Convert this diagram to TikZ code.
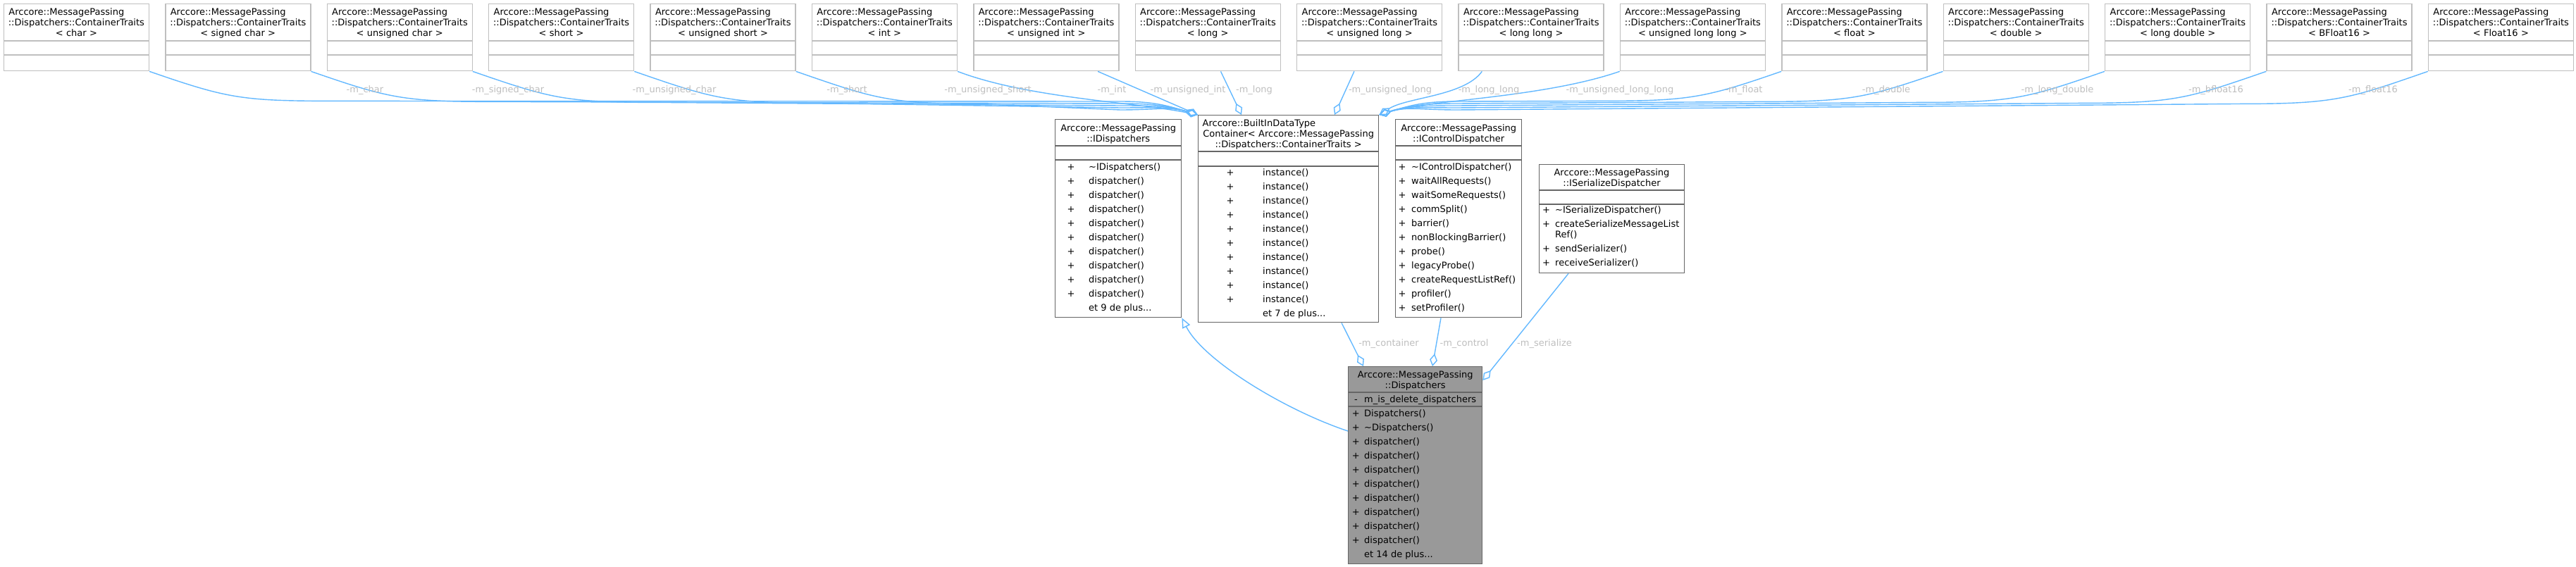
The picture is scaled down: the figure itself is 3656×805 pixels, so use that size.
\documentclass[tikz,border=0pt]{standalone}
\usepackage{fontspec}
\setmainfont{DejaVu Sans}
\usetikzlibrary{arrows.meta,calc}

\definecolor{edgeblue}{HTML}{63B8FF}
\definecolor{extframe}{HTML}{BFBFBF}
\definecolor{docframe}{HTML}{666666}
\definecolor{mainfill}{HTML}{999999}
\definecolor{lblgray}{HTML}{BEBEBE}

\begin{document}
\begin{tikzpicture}[x=1pt, y=-1pt,
  every node/.style = {inner sep=0pt, font=\fontsize{13}{15}\selectfont},
  extclass/.style = {draw=extframe, line width=1.4pt, anchor=north west,
    minimum width=206pt, minimum height=95pt},
  docclass/.style = {draw=docframe, line width=1.4pt, anchor=north west},
  sepline/.style = {line width=1.4pt},
  title/.style = {anchor=north, align=center},
  members/.style = {anchor=north west, align=left, font=\fontsize{13}{20}\selectfont},
  marks/.style = {anchor=north, align=center, font=\fontsize{13}{20}\selectfont},
  agg/.style = {draw=edgeblue, line width=1.4pt, {Diamond[open,length=18pt,width=11pt]}-},
  inherit/.style = {draw=edgeblue, line width=1.4pt, -{Triangle[open,length=14pt,width=12pt]}},
  elabel/.style = {text=lblgray}]

  \useasboundingbox (0,0) rectangle (3656,805);

  % container traits
  \foreach \typ [count=\i from 0] in {char, signed char, unsigned char, short,
      unsigned short, int, unsigned int, long, unsigned long, long long,
      unsigned long long, float, double, long double, BFloat16, Float16} {
    \node[extclass] (t\i) at (4.7+229.4*\i, 5) {};
    \node[title, text width=206pt] at ($(t\i.north)+(0,6)$)
      {\strut\hspace*{7pt}Arccore::MessagePassing\hfill\null\\::Dispatchers::ContainerTraits\\< \typ{} >};
    \draw[extframe, sepline] ($(t\i.north west)+(0,53)$) -- ++(206,0)
      ($(t\i.north west)+(0,73)$) -- ++(206,0);
  }

  % IDispatchers
  \node[docclass, minimum width=179pt, minimum height=281pt] (idisp) at (1497,169) {};
  \node[title] at ($(idisp.north)+(0,7)$) {\strut Arccore::MessagePassing\\::IDispatchers};
  \draw[docframe, sepline] ($(idisp.north west)+(0,38)$) -- ++(179,0)
    ($(idisp.north west)+(0,58)$) -- ++(179,0);
  \node[marks] at ($(idisp.north west)+(23,58.5)$) {\strut+\\+\\+\\+\\+\\+\\+\\+\\+\\+};
  \node[members] at ($(idisp.north west)+(48,58.5)$)
    {\strut\textasciitilde IDispatchers()\\dispatcher()\\dispatcher()\\dispatcher()\\dispatcher()\\dispatcher()\\dispatcher()\\dispatcher()\\dispatcher()\\dispatcher()\\et 9 de plus...};

  % BuiltInDataTypeContainer
  \node[docclass, minimum width=256pt, minimum height=294pt] (bi) at (1700,163) {};
  \node[title, text width=244pt] at ($(bi.north)+(0,6)$)
    {\strut Arccore::BuiltInDataType\hfill\null\\Container< Arccore::MessagePassing\\::Dispatchers::ContainerTraits >};
  \draw[docframe, sepline] ($(bi.north west)+(0,52)$) -- ++(256,0)
    ($(bi.north west)+(0,73)$) -- ++(256,0);
  \node[marks] at ($(bi.north west)+(46,72.5)$) {\strut+\\+\\+\\+\\+\\+\\+\\+\\+\\+};
  \node[members] at ($(bi.north west)+(92,72.5)$)
    {\strut instance()\\instance()\\instance()\\instance()\\instance()\\instance()\\instance()\\instance()\\instance()\\instance()\\et 7 de plus...};

  % IControlDispatcher
  \node[docclass, minimum width=179pt, minimum height=281pt] (ic) at (1980,169) {};
  \node[title] at ($(ic.north)+(0,7)$) {\strut Arccore::MessagePassing\\::IControlDispatcher};
  \draw[docframe, sepline] ($(ic.north west)+(0,38)$) -- ++(179,0)
    ($(ic.north west)+(0,58)$) -- ++(179,0);
  \node[marks] at ($(ic.north west)+(10,58.5)$) {\strut+\\+\\+\\+\\+\\+\\+\\+\\+\\+\\+};
  \node[members] at ($(ic.north west)+(23,58.5)$)
    {\strut\textasciitilde IControlDispatcher()\\waitAllRequests()\\waitSomeRequests()\\commSplit()\\barrier()\\nonBlockingBarrier()\\probe()\\legacyProbe()\\createRequestListRef()\\profiler()\\setProfiler()};

  % ISerializeDispatcher
  \node[docclass, minimum width=206.4pt, minimum height=154.3pt] (isd) at (2183.6,232.7) {};
  \node[title] at ($(isd.north)+(0,6.3)$) {\strut Arccore::MessagePassing\\::ISerializeDispatcher};
  \draw[docframe, sepline] ($(isd.north west)+(0,37.3)$) -- ++(206.4,0)
    ($(isd.north west)+(0,57.3)$) -- ++(206.4,0);
  \node[marks] at ($(isd.north west)+(11,55.8)$) {\strut+\\+\\[15pt]+\\+};
  \node[members] at ($(isd.north west)+(23.4,55.8)$)
    {\strut\textasciitilde ISerializeDispatcher()\\createSerializeMessageList\\[-5pt]Ref()\\sendSerializer()\\receiveSerializer()};

  % Dispatchers
  \node[docclass, fill=mainfill, minimum width=190pt, minimum height=280pt] (disp) at (1913,520) {};
  \node[title] at ($(disp.north)+(0,6)$) {\strut Arccore::MessagePassing\\::Dispatchers};
  \draw[docframe, sepline] ($(disp.north west)+(0,37)$) -- ++(190,0)
    ($(disp.north west)+(0,57)$) -- ++(190,0);
  \node[marks] at ($(disp.north west)+(11.4,37.5)$) {\strut-};
  \node[members] at ($(disp.north west)+(23,37.5)$) {\strut m\_is\_delete\_dispatchers};
  \node[marks] at ($(disp.north west)+(11.4,57.5)$) {\strut+\\+\\+\\+\\+\\+\\+\\+\\+\\+};
  \node[members] at ($(disp.north west)+(23,57.5)$)
    {\strut Dispatchers()\\\textasciitilde Dispatchers()\\dispatcher()\\dispatcher()\\dispatcher()\\dispatcher()\\dispatcher()\\dispatcher()\\dispatcher()\\dispatcher()\\et 14 de plus...};

  % traits members, left bundle
  \foreach \i in {0,...,4}
    \draw[agg] (bi.north west) .. controls +(-40,-12) and +(50,0) .. ($(bi.north west)+(-110,{-19+3*\i})$)
      -- ($(t\i.south east)+(260,{42+\i})$) .. controls +(-130,0) and +(110,38) .. (t\i.south east);
  \draw[agg] (bi.north west) .. controls +(-90,-18) and +(100,38) .. (t5.south east);
  \draw[agg] (bi.north west) -- ($(t6.south west)+(177,0)$);
  \draw[agg] ($(bi.north west)+(62,0)$) -- ($(t7.south west)+(122,0)$);
  \draw[agg] ($(bi.north west)+(194,0)$) -- ($(t8.south west)+(82,0)$);
  % traits members, right bundle
  \draw[agg] (bi.north east) .. controls +(40,-25) and +(-25,35) .. ($(t9.south west)+(34,0)$);
  \draw[agg] (bi.north east) .. controls +(60,-20) and +(-110,38) .. (t10.south west);
  \foreach \i in {11,...,15}
    \draw[agg] (bi.north east) .. controls +(40,-12) and +(-50,0) .. ($(bi.north east)+(110,{-19+3*(\i-11)})$)
      -- ($(t\i.south west)+(-260,{42+\i-11})$) .. controls +(130,0) and +(-110,38) .. (t\i.south west);
  \foreach \lx/\ln in {518/char, 721/signed\_char, 957/unsigned\_char, 1202/short,
      1402/unsigned\_short, 1578/int, 1686/unsigned\_int, 1780/long,
      1973/unsigned\_long, 2113/long\_long, 2299/unsigned\_long\_long, 2475/float,
      2677/double, 2920/long\_double, 3145/bfloat16, 3368/float16}
    \node[elabel] at (\lx,128) {-m\_\ln};

  % dispatcher members
  \draw[agg] ($(disp.north west)+(22,0)$) -- ($(bi.south west)+(204,0)$);
  \draw[agg] ($(disp.north west)+(120,0)$) -- ($(ic.south west)+(65,0)$);
  \draw[agg] ($(disp.north east)+(0,20)$) -- ($(isd.south west)+(42.4,0)$);
  \node[elabel] at (1971,488) {-m\_container};
  \node[elabel] at (2078,488) {-m\_control};
  \node[elabel] at (2192,488) {-m\_serialize};

  \draw[inherit] ($(disp.north west)+(0,92)$) .. controls +(-90,-30) and +(30,60) .. (idisp.south east);
\end{tikzpicture}
\end{document}
